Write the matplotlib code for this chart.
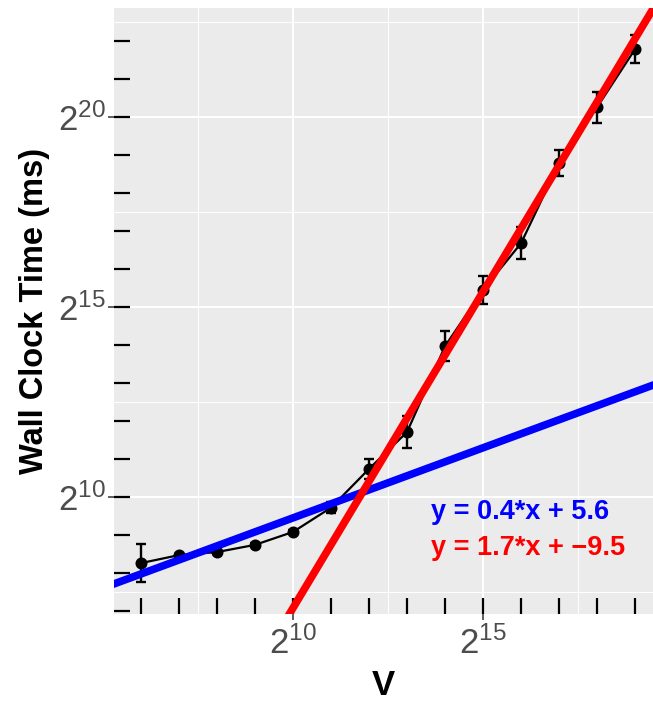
import numpy as np
import matplotlib
matplotlib.use("Agg")
import matplotlib.pyplot as plt
from matplotlib.ticker import FixedLocator, FuncFormatter, NullFormatter

plt.rcParams['font.family'] = ['Liberation Sans', 'DejaVu Sans']

# log2(V) and log2(wall clock time in ms)
log2_v = np.array([6, 7, 8, 9, 10, 11, 12, 13, 14, 15, 16, 17, 18, 19])
log2_t = np.array([8.26, 8.47, 8.55, 8.74, 9.08, 9.72, 10.74, 11.71,
                   13.97, 15.45, 16.68, 18.79, 20.26, 21.79])
log2_err = np.array([0.51, 0.04, 0.04, 0.04, 0.05, 0.15, 0.27, 0.43,
                     0.40, 0.37, 0.42, 0.33, 0.41, 0.38])

# fitted lines in log2-log2 space
fit_slope = [0.369, 1.665]
fit_icept = [5.76, -9.57]
fit_color = ['#0000FF', '#FF0000']
fit_label = ['y = 0.4*x + 5.6', 'y = 1.7*x + \u22129.5']

v = 2.0 ** log2_v
t = 2.0 ** log2_t
lo = t - 2.0 ** (log2_t - log2_err)
hi = 2.0 ** (log2_t + log2_err) - t

fig = plt.figure(figsize=(6.53, 7.02), dpi=100)
ax = fig.add_axes([114 / 653, 88 / 702, 539 / 653, 606 / 702])
ax.set_facecolor('#EBEBEB')
for s in ax.spines.values():
    s.set_visible(False)

ax.set_xscale('log', base=2)
ax.set_yscale('log', base=2)
ax.set_xlim(2 ** 5.29, 2 ** 19.47)
ax.set_ylim(2 ** 6.92, 2 ** 22.87)

# grid: major at 2^10, 2^15, 2^20; minor halfway
for e in [7.5, 12.5, 17.5, 22.5]:
    ax.axvline(2 ** e, color='white', lw=0.7, zorder=0.5)
    ax.axhline(2 ** e, color='white', lw=0.7, zorder=0.5)
for e in [10, 15, 20]:
    ax.axvline(2 ** e, color='white', lw=1.5, zorder=0.6)
    ax.axhline(2 ** e, color='white', lw=1.5, zorder=0.6)

xx = np.array([2 ** 4.0, 2 ** 21.0])
for a, b, c in zip(fit_slope, fit_icept, fit_color):
    ax.plot(xx, 2 ** b * xx ** a, color=c, lw=5.5, zorder=3, solid_capstyle='butt')

ax.plot(v, t, color='black', lw=1.6, zorder=2)
ax.errorbar(v, t, yerr=[lo, hi], fmt='none', ecolor='black', elinewidth=1.7,
            capsize=3.5, capthick=1.7, zorder=2)
ax.scatter(v, t, s=75, color='black', zorder=2.5, linewidths=0)

ax.text(2 ** 13.63, 2 ** 9.61, fit_label[0], color=fit_color[0], fontsize=19.5,
        fontweight='bold', va='center', ha='left', zorder=4)
ax.text(2 ** 13.63, 2 ** 8.66, fit_label[1], color=fit_color[1], fontsize=19.5,
        fontweight='bold', va='center', ha='left', zorder=4)

fmt = FuncFormatter(lambda val, pos: r'$\mathregular{2^{%d}}$' % round(np.log2(val)))
ax.xaxis.set_major_locator(FixedLocator(2.0 ** np.array([10, 15])))
ax.yaxis.set_major_locator(FixedLocator(2.0 ** np.array([10, 15, 20])))
ax.xaxis.set_major_formatter(fmt)
ax.yaxis.set_major_formatter(fmt)
ax.xaxis.set_minor_locator(FixedLocator(2.0 ** np.arange(5, 21)))
ax.yaxis.set_minor_locator(FixedLocator(2.0 ** np.arange(6, 24)))
ax.xaxis.set_minor_formatter(NullFormatter())
ax.yaxis.set_minor_formatter(NullFormatter())
ax.xaxis.remove_overlapping_locs = False
ax.yaxis.remove_overlapping_locs = False
ax.tick_params(which='major', direction='out', length=4, width=1.1,
               color='#333333', labelsize=25, labelcolor='#4D4D4D', pad=2)
ax.tick_params(axis='x', which='major', pad=5)
ax.tick_params(which='minor', direction='in', length=11.5, width=1.6,
               color='black')

ax.set_xlabel('V', fontsize=25, fontweight='bold', labelpad=6)
ax.set_ylabel('Wall Clock Time (ms)', fontsize=23.5, fontweight='bold', labelpad=6)

fig.savefig('out.png', dpi=100)
